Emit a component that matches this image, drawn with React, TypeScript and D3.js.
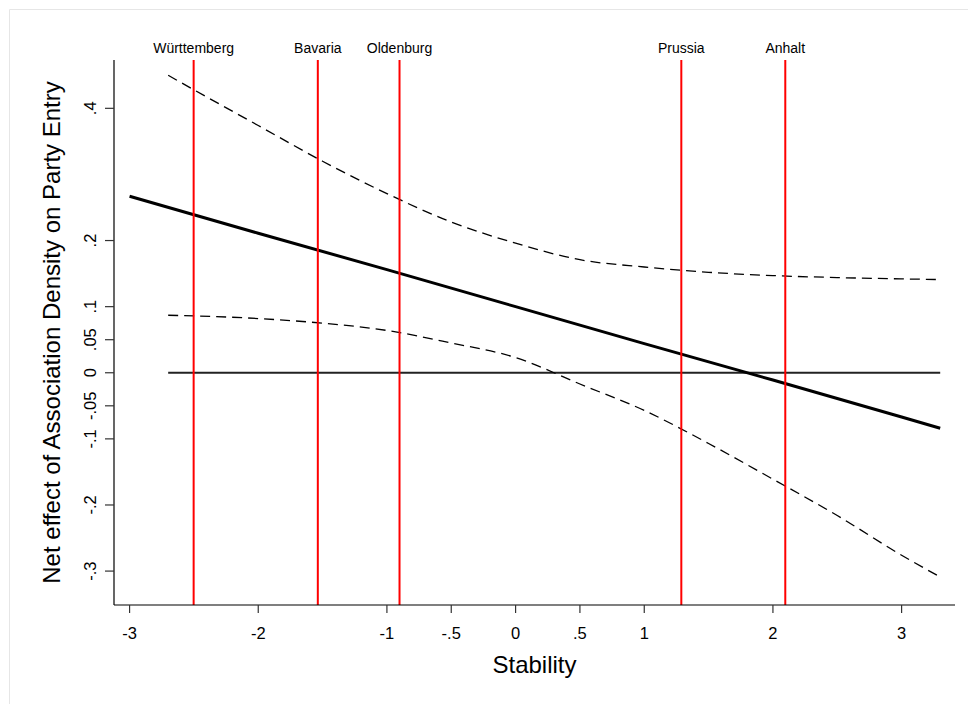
import React from "react";
import * as d3 from "d3";

// ---- data ----
const ciStability = [-2.7, -2.5, -2, -1.5, -1, -0.5, 0, 0.5, 1, 1.5, 2, 2.5, 3, 3.3];
const ciUpper = [0.45, 0.428, 0.374, 0.32, 0.271, 0.228, 0.196, 0.171, 0.16, 0.152, 0.147, 0.144, 0.142, 0.141];
const ciLower = [0.087, 0.086, 0.082, 0.075, 0.064, 0.045, 0.023, -0.017, -0.057, -0.107, -0.161, -0.216, -0.276, -0.309];

const effStability = [-3, -2, -1, 0, 1, 2, 3, 3.3];
const effValues = [0.267, 0.211, 0.156, 0.1, 0.044, -0.011, -0.067, -0.084];

const zeroLineRange = [-2.7, 3.3];

const stateNames = ["Württemberg", "Bavaria", "Oldenburg", "Prussia", "Anhalt"];
const stateStability = [-2.502, -1.537, -0.902, 1.288, 2.096];

const yTicks = [0.4, 0.2, 0.1, 0.05, 0, -0.05, -0.1, -0.2, -0.3];
const yTickLabels = [".4", ".2", ".1", ".05", "0", "-.05", "-.1", "-.2", "-.3"];
const xTicks = [-3, -2, -1, -0.5, 0, 0.5, 1, 2, 3];
const xTickLabels = ["-3", "-2", "-1", "-.5", "0", ".5", "1", "2", "3"];

const xTitle = "Stability";
const yTitle = "Net effect of Association Density on Party Entry";

// ---- layout ----
const W = 968;
const H = 704;
const plotLeft = 114;
const plotRight = 955;
const plotTop = 60;
const plotBottom = 605;
const FONT = "'Liberation Sans', Arial, Helvetica, sans-serif";

export default function App() {
  const x = d3.scaleLinear().domain([-3.121, 3.415]).range([plotLeft, plotRight]);
  const y = d3.scaleLinear().domain([-0.3513, 0.4731]).range([plotBottom, plotTop]);

  const line = d3
    .line<[number, number]>()
    .x((d) => x(d[0]))
    .y((d) => y(d[1]))
    .curve(d3.curveMonotoneX);

  const upperPath = line(ciStability.map((s, i) => [s, ciUpper[i]]) as [number, number][]) || "";
  const lowerPath = line(ciStability.map((s, i) => [s, ciLower[i]]) as [number, number][]) || "";
  const effPath =
    d3
      .line<[number, number]>()
      .x((d) => x(d[0]))
      .y((d) => y(d[1]))(effStability.map((s, i) => [s, effValues[i]]) as [number, number][]) || "";

  return (
    <svg
      width={W}
      height={H}
      style={{ position: "absolute", left: 0, top: 0, background: "#fff" }}
      fontFamily={FONT}
    >
      <rect x={0} y={0} width={W} height={H} fill="#fff" />
      {/* outer light border */}
      <line x1={9.5} y1={9.5} x2={W} y2={9.5} stroke="#e6e6e6" strokeWidth={1} />
      <line x1={9.5} y1={9.5} x2={9.5} y2={H} stroke="#e6e6e6" strokeWidth={1} />

      {/* zero line */}
      <line
        x1={x(zeroLineRange[0])}
        x2={x(zeroLineRange[1])}
        y1={y(0)}
        y2={y(0)}
        stroke="#222"
        strokeWidth={1.8}
      />

      {/* confidence bounds */}
      <path d={upperPath} fill="none" stroke="#000" strokeWidth={1.3} strokeDasharray="10 6" />
      <path d={lowerPath} fill="none" stroke="#000" strokeWidth={1.3} strokeDasharray="10 6" />

      {/* marginal effect */}
      <path d={effPath} fill="none" stroke="#000" strokeWidth={3} />

      {/* state lines */}
      {stateNames.map((n, i) => (
        <g key={n}>
          <line
            x1={x(stateStability[i])}
            x2={x(stateStability[i])}
            y1={plotTop}
            y2={plotBottom}
            stroke="#ff0000"
            strokeWidth={2}
          />
          <text x={x(stateStability[i])} y={53} textAnchor="middle" fontSize={14} fill="#000">
            {n}
          </text>
        </g>
      ))}

      {/* y axis */}
      <line x1={plotLeft} x2={plotLeft} y1={plotTop} y2={plotBottom} stroke="#000" strokeWidth={1.2} />
      {yTicks.map((t, i) => (
        <g key={"y" + i}>
          <line x1={plotLeft - 9} x2={plotLeft} y1={y(t)} y2={y(t)} stroke="#333" strokeWidth={1.2} />
          <text
            transform={`translate(${96},${y(t)}) rotate(-90)`}
            textAnchor="middle"
            fontSize={16.5}
            fill="#000"
          >
            {yTickLabels[i]}
          </text>
        </g>
      ))}

      {/* x axis */}
      <line x1={plotLeft} x2={plotRight} y1={plotBottom} y2={plotBottom} stroke="#000" strokeWidth={1.2} />
      {xTicks.map((t, i) => (
        <g key={"x" + i}>
          <line x1={x(t)} x2={x(t)} y1={plotBottom} y2={plotBottom + 8} stroke="#333" strokeWidth={1.2} />
          <text x={x(t)} y={639} textAnchor="middle" fontSize={16.5} fill="#000">
            {xTickLabels[i]}
          </text>
        </g>
      ))}

      {/* titles */}
      <text x={(plotLeft + plotRight) / 2} y={673} textAnchor="middle" fontSize={24} fill="#000">
        {xTitle}
      </text>
      <text
        transform={`translate(${59.5},${(plotTop + plotBottom) / 2}) rotate(-90)`}
        textAnchor="middle"
        fontSize={24}
        fill="#000"
      >
        {yTitle}
      </text>
    </svg>
  );
}
